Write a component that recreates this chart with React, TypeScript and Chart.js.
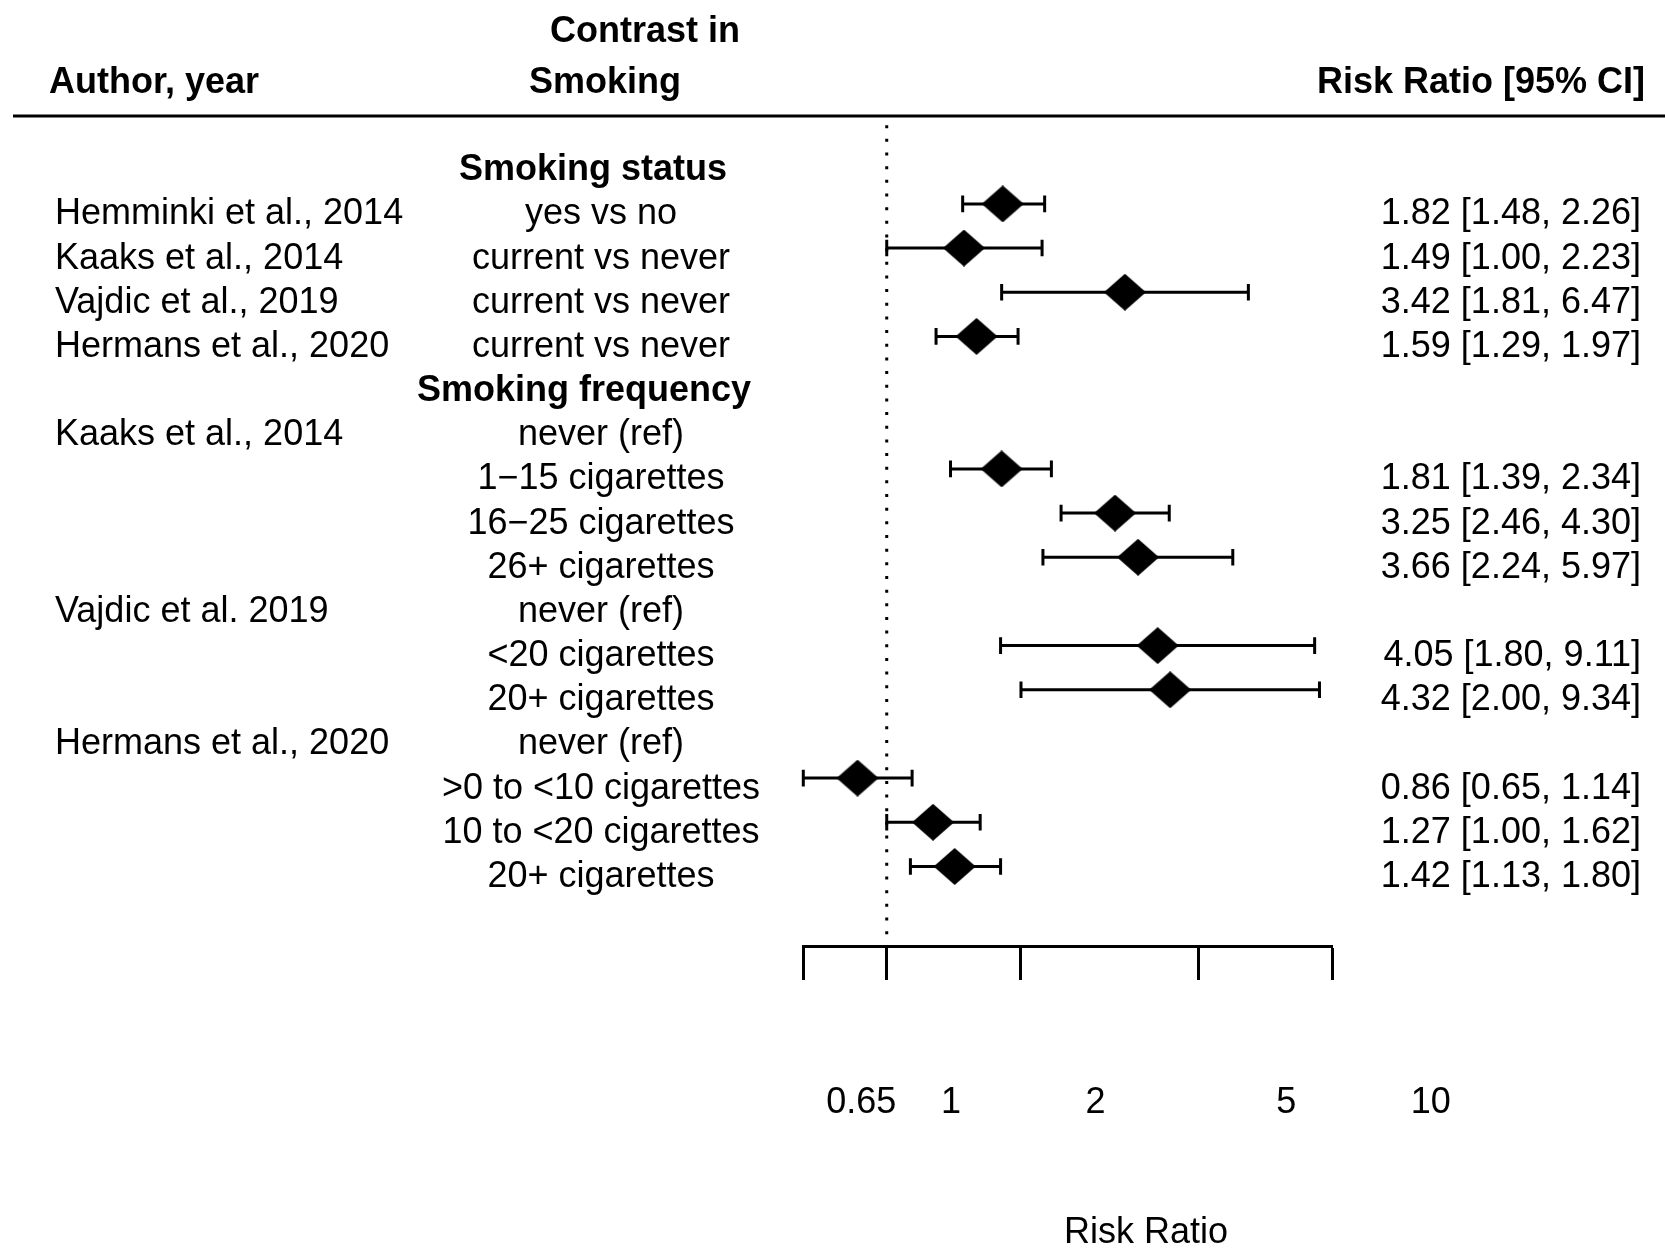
import React, { useEffect, useRef } from "react";
import { Chart, registerables } from "chart.js";

Chart.register(...registerables);

// ---- data ----
const authors = [
  "Hemminki et al., 2014",
  "Kaaks et al., 2014",
  "Vajdic et al., 2019",
  "Hermans et al., 2020",
  "",
  "Kaaks et al., 2014",
  "",
  "",
  "",
  "Vajdic et al. 2019",
  "",
  "",
  "Hermans et al., 2020",
  "",
  "",
  "",
];
const contrasts = [
  "yes vs no",
  "current vs never",
  "current vs never",
  "current vs never",
  "",
  "never (ref)",
  "1\u221215 cigarettes",
  "16\u221225 cigarettes",
  "26+ cigarettes",
  "never (ref)",
  "<20 cigarettes",
  "20+ cigarettes",
  "never (ref)",
  ">0 to <10 cigarettes",
  "10 to <20 cigarettes",
  "20+ cigarettes",
];
const estimates: (number | null)[] = [1.82, 1.49, 3.42, 1.59, null, null, 1.81, 3.25, 3.66, null, 4.05, 4.32, null, 0.86, 1.27, 1.42];
const lowers: (number | null)[] = [1.48, 1.0, 1.81, 1.29, null, null, 1.39, 2.46, 2.24, null, 1.8, 2.0, null, 0.65, 1.0, 1.13];
const uppers: (number | null)[] = [2.26, 2.23, 6.47, 1.97, null, null, 2.34, 4.3, 5.97, null, 9.11, 9.34, null, 1.14, 1.62, 1.8];
const groupHeadings = ["Smoking status", "Smoking frequency"];
const groupRows = [-1, 4];
const groupCenters = [593, 584];
const tickValues = [0.65, 1, 2, 5, 10];
const tickLabels = ["0.65", "1", "2", "5", "10"];

const FONT = '"Liberation Sans", Arial, Helvetica, sans-serif';
const FS = 36;
const BASE_OFF = 20.5;

function makeDiamond(): HTMLCanvasElement {
  const c = document.createElement("canvas");
  c.width = 42;
  c.height = 37;
  const g = c.getContext("2d")!;
  g.fillStyle = "#000";
  g.beginPath();
  g.moveTo(21, 0);
  g.lineTo(42, 18.5);
  g.lineTo(21, 37);
  g.lineTo(0, 18.5);
  g.closePath();
  g.fill();
  return c;
}

const forestPlugin = {
  id: "forest",
  beforeDatasetsDraw(chart: any) {
    const { ctx } = chart;
    const xs = chart.scales.x;
    const ys = chart.scales.y;
    ctx.save();
    ctx.strokeStyle = "#000";
    // reference line at 1
    const x1 = xs.getPixelForValue(1);
    ctx.lineWidth = 3;
    ctx.lineCap = "butt";
    ctx.setLineDash([3, 10.66]);
    ctx.beginPath();
    ctx.moveTo(x1, 125.2);
    ctx.lineTo(x1, 937);
    ctx.stroke();
    ctx.setLineDash([]);
    // whiskers
    estimates.forEach((e, i) => {
      if (e == null) return;
      const py = ys.getPixelForValue(i);
      const xl = xs.getPixelForValue(lowers[i] as number);
      const xh = xs.getPixelForValue(uppers[i] as number);
      ctx.lineWidth = 3;
      ctx.beginPath();
      ctx.moveTo(xl, py);
      ctx.lineTo(xh, py);
      ctx.moveTo(xl, py - 8.3);
      ctx.lineTo(xl, py + 8.3);
      ctx.moveTo(xh, py - 8.3);
      ctx.lineTo(xh, py + 8.3);
      ctx.stroke();
    });
    ctx.restore();
  },
  afterDraw(chart: any) {
    const { ctx } = chart;
    const xs = chart.scales.x;
    const ys = chart.scales.y;
    ctx.save();
    ctx.fillStyle = "#000";
    ctx.textBaseline = "alphabetic";
    // headers
    ctx.font = `bold ${FS}px ${FONT}`;
    ctx.textAlign = "center";
    ctx.fillText("Contrast in", 645, 41.5);
    ctx.fillText("Smoking", 605, 92.5);
    ctx.textAlign = "left";
    ctx.fillText("Author, year", 49, 92.5);
    ctx.textAlign = "right";
    ctx.fillText("Risk Ratio [95% CI]", 1645, 92.5);
    // header rule
    ctx.fillRect(13, 114.5, 1652, 3);
    // group headings
    ctx.textAlign = "center";
    groupHeadings.forEach((g, i) => {
      ctx.fillText(g, groupCenters[i], ys.getPixelForValue(groupRows[i]) + BASE_OFF);
    });
    // rows
    ctx.font = `${FS}px ${FONT}`;
    authors.forEach((a, i) => {
      const py = ys.getPixelForValue(i) + BASE_OFF;
      if (a) {
        ctx.textAlign = "left";
        ctx.fillText(a, 55, py);
      }
      if (contrasts[i]) {
        ctx.textAlign = "center";
        ctx.fillText(contrasts[i], 601, py);
      }
      const e = estimates[i];
      if (e != null) {
        ctx.textAlign = "right";
        const s = `${e.toFixed(2)} [${(lowers[i] as number).toFixed(2)}, ${(uppers[i] as number).toFixed(2)}]`;
        ctx.fillText(s, 1641, py);
      }
    });
    // tick labels (as placed in the reference)
    ctx.textAlign = "center";
    tickValues.forEach((v, i) => {
      const px = xs.getPixelForValue(v) * 1.0755 - 2.6;
      ctx.fillText(tickLabels[i], px, 1113);
    });
    // axis title
    const mid = (xs.left + xs.right) / 2;
    ctx.fillText("Risk Ratio", mid * 1.0755 - 2.6, 1243);
    ctx.restore();
  },
};

export default function App() {
  const ref = useRef<HTMLCanvasElement | null>(null);
  useEffect(() => {
    document.body.style.margin = "0";
    const canvas = ref.current!;
    const diamond = makeDiamond();
    const pts: { x: number; y: number }[] = [];
    estimates.forEach((e, i) => {
      if (e != null) pts.push({ x: e, y: i });
    });
    const chart = new Chart(canvas, {
      type: "scatter",
      data: {
        datasets: [
          {
            data: pts,
            pointStyle: diamond as any,
            pointRadius: 21,
            backgroundColor: "#000",
            borderColor: "#000",
          },
        ],
      },
      options: {
        animation: false,
        responsive: false,
        devicePixelRatio: 1,
        layout: { autoPadding: false, padding: { left: 803.3, right: 332.3, top: 0, bottom: 0 } },
        plugins: { legend: { display: false }, tooltip: { enabled: false } },
        scales: {
          x: {
            type: "logarithmic",
            min: 0.65,
            max: 10,
            afterBuildTicks: (scale: any) => {
              scale.ticks = tickValues.map((v) => ({ value: v }));
            },
            afterFit: (scale: any) => {
              scale.height = 304;
            },
            ticks: { display: false },
            grid: {
              drawOnChartArea: false,
              drawTicks: true,
              tickLength: 34,
              tickWidth: 3,
              tickColor: "#000",
              color: "#000",
            },
            border: { display: true, width: 3, color: "#000" },
          },
          y: {
            type: "linear",
            display: false,
            reverse: true,
            min: -4.616,
            max: 16.801,
          },
        },
      },
      plugins: [forestPlugin],
    });
    return () => chart.destroy();
  }, []);
  return (
    <div style={{ width: 1665, height: 1250 }}>
      <canvas ref={ref} width={1665} height={1250} style={{ display: "block" }} />
    </div>
  );
}
